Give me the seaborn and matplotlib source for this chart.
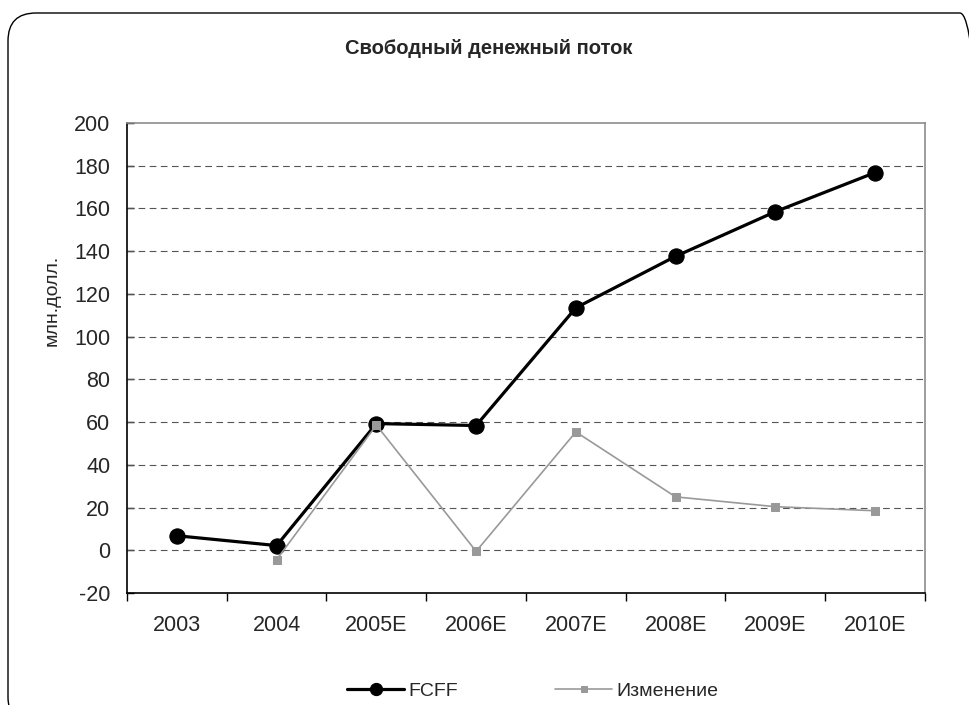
import matplotlib
matplotlib.use("Agg")
import matplotlib.pyplot as plt
import seaborn as sns
import pandas as pd
import numpy as np
from matplotlib.patches import FancyBboxPatch
from matplotlib.ticker import FixedLocator

categories = ["2003", "2004", "2005E", "2006E", "2007E", "2008E", "2009E", "2010E"]
fcff = [6.8, 2.2, 59.3, 58.4, 113.5, 137.6, 158.5, 176.8]
change = [np.nan, -4.4, 58.6, -0.5, 55.4, 25.0, 20.4, 18.5]
series_names = ["FCFF", "Изменение"]
yticks = list(range(-20, 201, 20))

sns.set_theme(style="white")
plt.rcParams['font.family'] = ['Liberation Sans', 'DejaVu Sans']

df = pd.DataFrame({
    "year": categories * 2,
    "value": fcff + change,
    "series": [series_names[0]] * len(categories) + [series_names[1]] * len(categories),
})
df["x"] = list(range(len(categories))) * 2

fig = plt.figure(figsize=(9.7, 7.05), dpi=100)
ax = fig.add_axes([127/970, 1 - 593/705, (925-127)/970, (593-123)/705])

sns.lineplot(data=df[df.series == series_names[0]], x="x", y="value", ax=ax,
             color="black", lw=2.3, marker="o", markersize=11,
             markeredgecolor="black", label=series_names[0], zorder=3)
sns.lineplot(data=df[df.series == series_names[1]], x="x", y="value", ax=ax,
             color="#999999", lw=1.2, marker="s", markersize=5.5,
             markeredgecolor="#999999", label=series_names[1], zorder=4)

ax.set_xlim(-0.5, len(categories) - 0.5)
ax.set_ylim(-20, 200)
ax.set_yticks(yticks)
ax.set_yticklabels([str(t) for t in yticks], fontsize=15.5)
ax.set_xticks(range(len(categories)))
ax.set_xticklabels(categories, fontsize=15.5)
ax.xaxis.set_minor_locator(FixedLocator(np.arange(-0.5, len(categories), 1.0)))
ax.tick_params(axis="x", which="major", length=0, pad=16)
ax.tick_params(axis="x", which="minor", length=6, width=1, color="black", direction="out", bottom=True)
ax.tick_params(axis="y", which="major", length=5, width=1, color="black", direction="in", left=True, pad=12)

for t in yticks[1:-1]:
    ax.axhline(t, color="#555555", lw=0.8, ls=(0, (6, 4)), zorder=1)

for s in ["left", "bottom"]:
    ax.spines[s].set_color("black")
    ax.spines[s].set_linewidth(1.2)
for s in ["top", "right"]:
    ax.spines[s].set_color("#8c8c8c")
    ax.spines[s].set_linewidth(1.2)

ax.set_xlabel("")
ax.set_ylabel("млн.долл.", fontsize=14)
ax.yaxis.set_label_coords((61 - 127) / 798, (593 - 300) / 470)

leg = ax.legend(loc="upper center", bbox_to_anchor=((533 - 127) / 798, -0.152), ncol=2,
                frameon=False, fontsize=14, handlelength=2.9, columnspacing=5,
                handletextpad=0.25, markerscale=0.8)

fig.text(489/970, 1 - 48/705, "Свободный денежный поток", ha="center", va="center",
         fontsize=14.5, fontweight="bold")

box = FancyBboxPatch((0.08, -0.2), 9.8, 7.05 - 0.13 + 0.2,
                     boxstyle="round,pad=0,rounding_size=0.28",
                     transform=fig.dpi_scale_trans, fill=False, ec="black", lw=1.0)
fig.patches.append(box)

fig.savefig("out.png", dpi=100)
